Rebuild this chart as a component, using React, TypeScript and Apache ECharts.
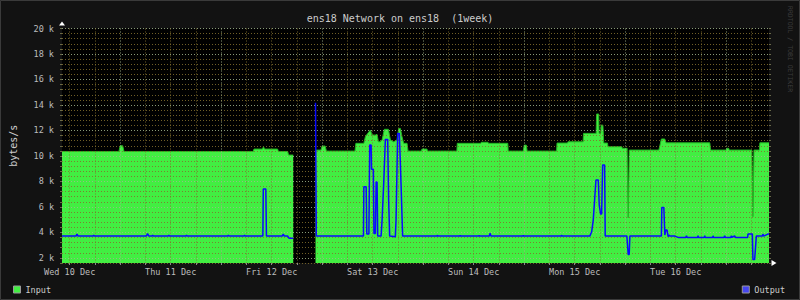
import React, { useEffect, useRef } from "react";
import * as echarts from "echarts";

// Time is in hours since Wed 10 Dec 2025 00:00
const xStart = 10.17;
const xEnd = 178.17;

const dayLabels = ["Wed 10 Dec", "Thu 11 Dec", "Fri 12 Dec", "Sat 13 Dec", "Sun 14 Dec", "Mon 15 Dec", "Tue 16 Dec"];
const dayLabelHours = [12, 36, 60, 84, 108, 132, 156];
const yLabelValues = [2000, 4000, 6000, 8000, 10000, 12000, 14000, 16000, 18000, 20000];

const inputPoints: [number, number | null][] = [
  [10.17, 10350],
  [23.7, 10350], [24.0, 10800], [24.6, 10800], [24.9, 10350],
  [55.6, 10350], [55.8, 10540], [57.8, 10540], [58.05, 10720], [58.3, 10540], [61.4, 10540], [61.6, 10350],
  [63.8, 10350], [64.0, 10070], [65.12, 10070],
  [67, null],
  [70.41, 10460], [71.7, 10460], [72.0, 10780], [72.7, 10780], [73.0, 10380],
  [79.8, 10380], [80.0, 10990], [81.9, 10990], [82.26, 11500], [82.81, 11770], [83.45, 12030], [83.85, 11640],
  [84.64, 11640], [85.04, 11690], [85.35, 11110], [85.83, 11110], [86.23, 11250], [86.77, 12090], [87.72, 12090],
  [88.2, 11250], [88.98, 11110], [89.79, 11250], [90.17, 12160], [90.57, 12160], [90.97, 11500], [91.35, 10990],
  [92.16, 10990], [92.39, 10380],
  [95.6, 10380], [95.7, 10540], [96.9, 10540], [97.0, 10380],
  [104.0, 10380], [104.1, 10990], [109.7, 10990], [109.8, 11070], [111.4, 11070], [111.5, 10990], [116.1, 10990], [116.2, 10380],
  [119.8, 10380], [120.0, 10850], [120.5, 10850], [120.7, 10380],
  [127.7, 10380], [127.8, 11010], [130.3, 11010], [130.4, 11110], [134.0, 11110], [134.1, 11770], [137.1, 11770],
  [137.2, 13290], [137.7, 13290], [137.8, 11770], [138.2, 11770], [138.3, 12420], [138.7, 12420], [138.9, 11010],
  [139.8, 11010], [139.9, 10720], [143.2, 10720], [143.3, 10600], [144.45, 10600], [144.71, 5150], [144.97, 10460],
  [152.0, 10460], [152.6, 11330], [153.4, 11330], [153.7, 11030], [164.1, 11030], [164.3, 10460],
  [168.0, 10460], [168.1, 10600], [168.6, 10600], [168.7, 10460],
  [174.1, 10460], [174.35, 5230], [174.6, 10460], [175.9, 10460], [176.0, 11030], [178.17, 11030],
];

const outputPoints: [number, number | null][] = [
  [10.17, 3710], [13.5, 3710], [13.73, 3870], [14.0, 3710],
  [17.55, 3710], [17.7, 3770], [17.85, 3710],
  [30.2, 3710], [30.5, 3900], [30.8, 3710],
  [31.55, 3710], [31.7, 3780], [31.85, 3710],
  [35.4, 3710], [35.55, 3770], [35.7, 3710],
  [39.6, 3710], [39.75, 3770], [39.9, 3710],
  [49.55, 3710], [49.7, 3770], [49.85, 3710],
  [53.4, 3710], [53.55, 3770], [53.7, 3710],
  [57.9, 3710], [58.0, 7400], [58.6, 7400], [58.75, 3710],
  [62.5, 3710], [62.75, 3870], [63.0, 3710],
  [63.8, 3710], [64.1, 3550], [65.12, 3550],
  [67, null],
  [70.41, 14175], [70.6, 3710],
  [81.8, 3710], [81.9, 7580], [82.45, 7580], [82.6, 3870], [83.1, 3870], [83.29, 10850], [83.62, 10850],
  [83.72, 8950], [84.15, 8950], [84.3, 3920], [84.64, 3920], [84.81, 7950], [85.04, 7950], [85.19, 3710],
  [85.99, 3710], [86.23, 4970], [86.61, 7790], [87.01, 11300], [87.56, 11300], [87.79, 6540], [88.03, 3710],
  [89.38, 3660], [89.55, 4970], [89.93, 11770], [90.33, 11770], [90.73, 7850], [91.11, 3710],
  [99.3, 3710], [99.41, 3780], [99.5, 3710],
  [104.7, 3710], [104.8, 3780], [104.9, 3710],
  [109.2, 3710], [109.3, 3760], [109.4, 3710],
  [111.7, 3710], [111.9, 3940], [112.1, 3710],
  [119.7, 3710], [119.8, 3780], [119.9, 3710],
  [128.8, 3710], [128.92, 3780], [129.0, 3710],
  [135.6, 3710], [136.03, 4050], [136.41, 4970], [137.05, 8110], [137.6, 8110], [137.83, 6145], [138.16, 5440],
  [138.4, 5440], [138.64, 9285], [139.11, 9285], [139.25, 3710],
  [144.4, 3710], [144.71, 2275], [144.95, 2275], [145.11, 3710],
  [152.6, 3710], [152.7, 5960], [153.18, 5960], [153.42, 3790], [153.65, 4180], [153.96, 4180], [154.2, 3660],
  [154.4, 3790], [154.6, 3710], [155.8, 3710], [156.57, 3610],
  [158.4, 3610], [158.56, 3735], [158.7, 3610],
  [161.2, 3610], [161.31, 3735], [161.4, 3610],
  [162.8, 3610], [162.9, 3735], [163.0, 3610],
  [164.8, 3610], [164.87, 3735], [165.0, 3610],
  [167.5, 3610], [167.64, 3735], [167.8, 3610],
  [169.1, 3610], [169.23, 3735], [169.4, 3610], [170.0, 3735], [170.2, 3610],
  [173.1, 3610], [173.17, 3870], [174.21, 3870], [174.35, 1880], [174.76, 1880], [175.16, 3710],
  [176.6, 3710], [176.73, 3870], [176.9, 3710], [177.9, 3870], [178.17, 3870],
];

const gridHours: number[] = [];
for (let h = 12; h <= 174; h += 6) gridHours.push(h);

const FONT = "DejaVu Sans Mono";
const TEXT = "#bdbdbd";
const MINOR = "rgba(130,110,45,0.85)";
const MAJOR = "rgba(160,180,140,0.85)";

export default function App() {
  const ref = useRef<HTMLDivElement>(null);
  useEffect(() => {
    document.body.style.margin = "0";
    const chart = echarts.init(ref.current!, undefined, { renderer: "svg" });
    chart.setOption({
      animation: false,
      backgroundColor: "#121212",
      title: {
        text: "ens18 Network on ens18  (1week)",
        left: "center",
        top: 13,
        padding: 0,
        textStyle: { color: "#cccccc", fontFamily: FONT, fontSize: 10, fontWeight: "normal" },
      },
      grid: { left: 61, right: 31, top: 28.5, bottom: 37, show: true, backgroundColor: "#000000", borderWidth: 0 },
      legend: [
        {
          data: ["Input"], left: 13, top: 285, padding: 0, icon: "rect", itemWidth: 7, itemHeight: 7,
          itemStyle: { borderColor: "#9a9a9a", borderWidth: 1 },
          textStyle: { color: "#cccccc", fontFamily: FONT, fontSize: 8.5 },
        },
        {
          data: ["Output"], right: 15, top: 285, padding: 0, icon: "rect", itemWidth: 7, itemHeight: 7,
          itemStyle: { borderColor: "#9a9a9a", borderWidth: 1 },
          textStyle: { color: "#cccccc", fontFamily: FONT, fontSize: 8.5 },
        },
      ],
      xAxis: [
        {
          type: "value", min: xStart, max: xEnd, position: "bottom", z: 5,
          axisLine: { show: true, symbol: ["none", "triangle"], symbolSize: [6, 5], symbolOffset: [0, 5], lineStyle: { color: "#ffffff", width: 0 } },
          axisTick: { show: true, customValues: gridHours, length: 2, lineStyle: { color: "#8a8a8a" } },
          axisLabel: {
            customValues: dayLabelHours,
            formatter: (v: number) => dayLabels[dayLabelHours.indexOf(Math.round(v))] ?? "",
            color: TEXT, fontFamily: FONT, fontSize: 8.5, margin: 4,
          },
          splitLine: { show: true, lineStyle: { color: [MINOR, MINOR, MAJOR, MINOR], type: [1, 2], width: 1 } },
        },
      ],
      yAxis: [
        {
          type: "value", min: 1600, max: 20000, interval: 400, position: "left", z: 5,
          name: "bytes/s", nameLocation: "middle", nameGap: 44, nameRotate: 90,
          nameTextStyle: { color: "#cccccc", fontFamily: FONT, fontSize: 10 },
          axisLine: { show: true, symbol: ["none", "triangle"], symbolSize: [6, 4], symbolOffset: [0, 5], lineStyle: { color: "#ffffff", width: 0 } },
          axisTick: { show: true, length: 2, lineStyle: { color: "#6a6a4a" } },
          axisLabel: {
            customValues: yLabelValues,
            formatter: (v: number) => v / 1000 + " k",
            color: TEXT, fontFamily: FONT, fontSize: 8.5, margin: 8,
          },
          splitLine: { show: true, lineStyle: { color: [MINOR, MAJOR, MINOR, MINOR, MINOR], type: [1, 2], width: 1 } },
        },
        {
          type: "value", min: 1600, max: 20000, interval: 400, position: "right", z: 5,
          axisLine: { show: false },
          axisTick: { show: true, length: 2, lineStyle: { color: "#6a6a4a" } },
          axisLabel: { show: false },
          splitLine: { show: false },
        },
      ],
      series: [
        {
          name: "Input", type: "line", data: inputPoints, symbol: "none", connectNulls: false, z: 2,
          lineStyle: { color: "#22b822", width: 1 },
          itemStyle: { color: "#42ee42" },
          areaStyle: { color: "#42ee42", opacity: 1 },
        },
        {
          name: "Output", type: "line", data: outputPoints, symbol: "none", connectNulls: false, z: 10,
          lineStyle: { color: "#0a0aff", width: 1.5 },
          itemStyle: { color: "#4646f0" },
        },
      ],
      graphic: [
        {
          type: "text", x: 790, y: 6, rotation: -Math.PI / 2,
          style: { text: "RRDTOOL / TOBI OETIKER", fill: "#3c3c3c", font: `6.5px "${FONT}"`, textAlign: "left", textVerticalAlign: "middle" },
        },
        {
          type: "rect", shape: { x: 0.5, y: 0.5, width: 799, height: 299 }, z: 100, silent: true,
          style: { fill: "none", stroke: "#3a3a3a", lineWidth: 1 },
        },
      ],
    });
    return () => chart.dispose();
  }, []);
  return <div ref={ref} style={{ position: "fixed", left: 0, top: 0, width: 800, height: 300 }} />;
}
